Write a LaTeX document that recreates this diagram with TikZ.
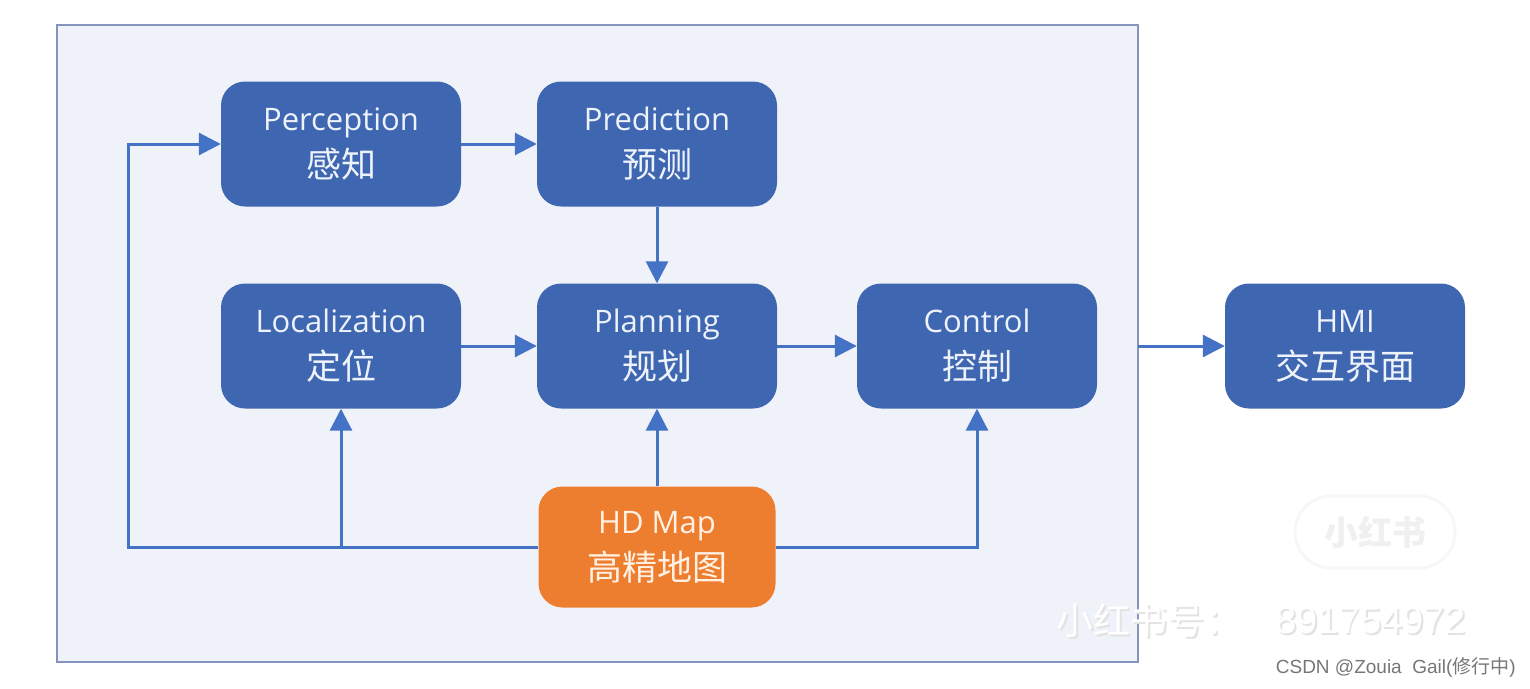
\documentclass[tikz,border=0pt]{standalone}
\usepackage{fontspec}
\setmainfont{Open Sans}
\setsansfont{Liberation Sans}
\newfontfamily\cjk{Noto Sans CJK SC}
\usetikzlibrary{arrows.meta}
\definecolor{boxblue}{HTML}{3F67B1}
\definecolor{boxorange}{HTML}{EE7E2F}
\definecolor{linkblue}{HTML}{4472C4}
\definecolor{framefill}{HTML}{F0F2FA}
\definecolor{framedraw}{HTML}{8494BC}
\definecolor{boxtext}{HTML}{EEF2FA}
\definecolor{marktext}{HTML}{777777}
\tikzset{
  modbox/.style={fill=boxblue, rounded corners=24pt, minimum width=240pt,
    minimum height=125pt, inner sep=0pt, text=boxtext, align=center,
    font=\fontsize{31}{47}\selectfont},
  mapbox/.style={modbox, fill=boxorange, minimum width=237pt, minimum height=121pt, text=white!90!orange},
  arr/.style={draw=linkblue, line width=3pt,
    -{Triangle[length=22pt,width=22pt]}},
  wmshadow/.style={text=gray!22, inner sep=0pt},
  wmtext/.style={text=white, inner sep=0pt},
}
\begin{document}
\begin{tikzpicture}[x=1pt,y=-1pt]
\useasboundingbox (0,0) rectangle (1530,688);
\fill[white] (0,0) rectangle (1530,688);
% frame
\draw[fill=framefill, draw=framedraw, line width=2pt] (57,25) rectangle (1138,662);
% boxes
\node[modbox] (perception) at (341,144) {Perception\\{\cjk\fontsize{35}{47}\selectfont 感知}};
\node[modbox] (prediction) at (657,144) {Prediction\\{\cjk\fontsize{35}{47}\selectfont 预测}};
\node[modbox] (localization) at (341,346) {Localization\\{\cjk\fontsize{35}{47}\selectfont 定位}};
\node[modbox] (planning) at (657,346) {Planning\\{\cjk\fontsize{35}{47}\selectfont 规划}};
\node[modbox] (control) at (977,346) {Control\\{\cjk\fontsize{35}{47}\selectfont 控制}};
\node[modbox] (hmi) at (1345,346) {HMI\\{\cjk\fontsize{35}{47}\selectfont 交互界面}};
\node[mapbox] (hdmap) at (657,547) {HD Map\\{\cjk\fontsize{35}{47}\selectfont 高精地图}};
% helper coordinates
\coordinate (loopc) at (128,547);
\coordinate (locj) at (341,547);
\coordinate (framee) at (1138,346);
% connectors
\draw[arr] (perception.east) -- (prediction.west);
\draw[arr] (prediction.south) -- (planning.north);
\draw[arr] (localization.east) -- (planning.west);
\draw[arr] (planning.east) -- (control.west);
\draw[arr] (hdmap.north) -- (planning.south);
\draw[arr] (hdmap.west) -- (loopc) |- (perception.west);
\draw[arr] (locj) -- (localization.south);
\draw[arr] (hdmap.east) -| (control.south);
\draw[arr] (framee) -- (hmi.west);
% watermarks
\node[draw=gray!6, fill=white, line width=3pt, rounded corners=36pt, minimum width=160pt, minimum height=72pt,
  text=gray!12, font=\cjk\bfseries\fontsize{34}{34}\selectfont] (logo) at (1375,532) {小红书};
\node[anchor=west, wmshadow, font=\cjk\fontsize{37}{37}\selectfont] (xhss) at (1058,622) {小红书号：};
\node[anchor=west, wmtext, font=\cjk\fontsize{37}{37}\selectfont] (xhs) at (1056,620) {小红书号：};
\node[anchor=east, wmshadow, font=\sffamily\fontsize{38}{38}\selectfont] (xhsnums) at (1468,622) {891754972};
\node[anchor=east, wmtext, font=\sffamily\fontsize{38}{38}\selectfont] (xhsnum) at (1466,620) {891754972};
\node[anchor=east, text=marktext, font=\sffamily\fontsize{19}{19}\selectfont, inner sep=0pt] (csdn) at (1516,667) {CSDN @Zouia\ \ Gail({\cjk 修行中})};
\end{tikzpicture}
\end{document}
